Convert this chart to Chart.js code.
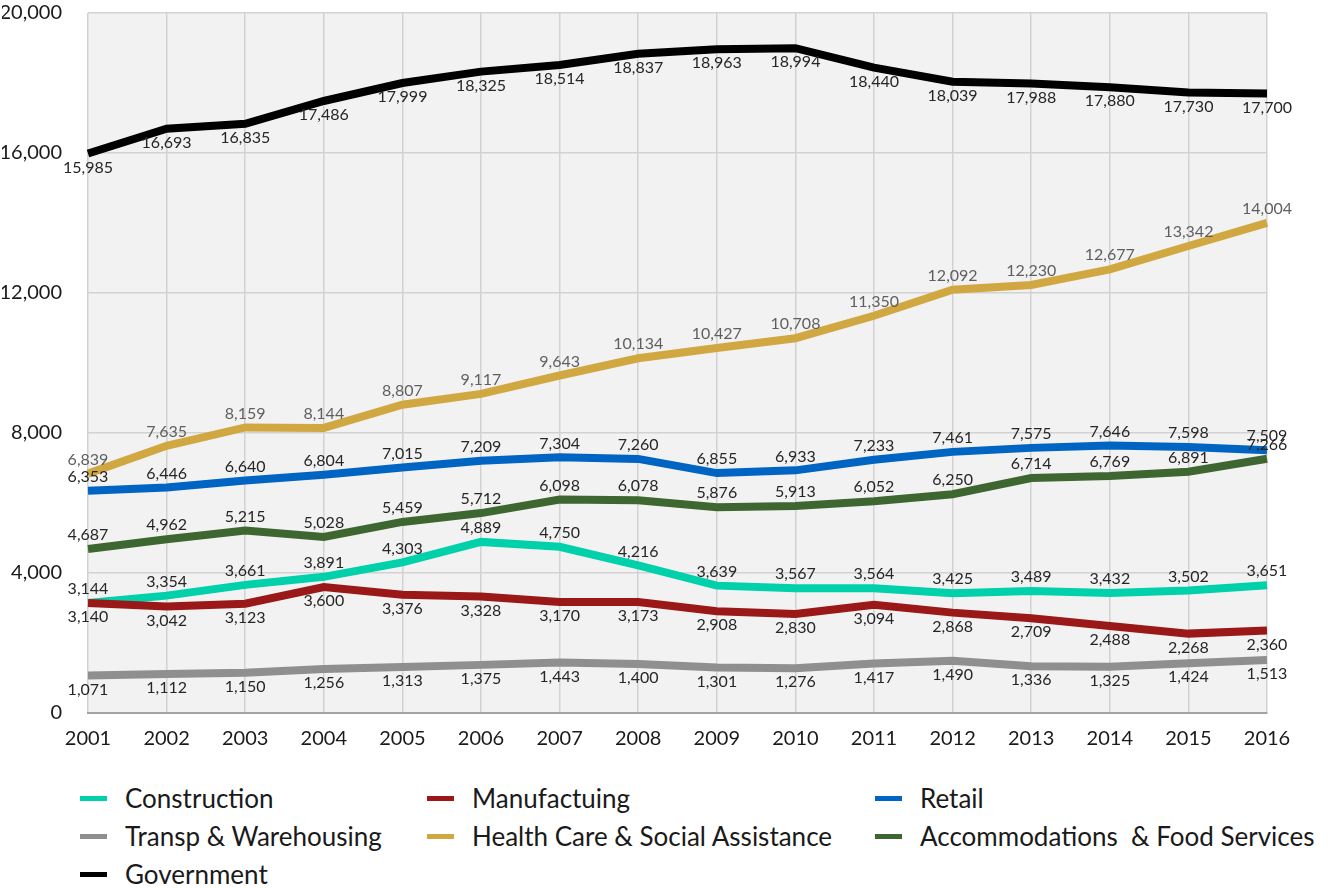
<!DOCTYPE html>
<html>
<head>
<meta charset="utf-8">
<script src="https://cdn.jsdelivr.net/npm/chart.js@4.4.1/dist/chart.umd.min.js"></script>
<style>
  html, body { margin: 0; padding: 0; background: #ffffff; }
  body { width: 1336px; height: 888px; position: relative; overflow: hidden; font-family: Lato, "Open Sans", sans-serif; }
  #wrap { position: absolute; left: 0; top: 0; width: 1336px; height: 765px; }
  #legend { position: absolute; left: 80px; top: 779px; display: grid; grid-template-columns: 347px 448px auto; grid-auto-rows: 38px; }
  .item { display: flex; align-items: center; font-size: 26px; color: #1a1a1a; white-space: pre; }
  .mark { width: 27px; height: 5px; margin-right: 18px; }
</style>
</head>
<body>
<div id="wrap"><canvas id="lineChart"></canvas></div>
<div id="legend"></div>
<script>
const years = ['2001', '2002', '2003', '2004', '2005', '2006', '2007', '2008',
               '2009', '2010', '2011', '2012', '2013', '2014', '2015', '2016'];

const construction = [3144, 3354, 3661, 3891, 4303, 4889, 4750, 4216, 3639, 3567, 3564, 3425, 3489, 3432, 3502, 3651];
const manufacturing = [3140, 3042, 3123, 3600, 3376, 3328, 3170, 3173, 2908, 2830, 3094, 2868, 2709, 2488, 2268, 2360];
const retail = [6353, 6446, 6640, 6804, 7015, 7209, 7304, 7260, 6855, 6933, 7233, 7461, 7575, 7646, 7598, 7509];
const transp = [1071, 1112, 1150, 1256, 1313, 1375, 1443, 1400, 1301, 1276, 1417, 1490, 1336, 1325, 1424, 1513];
const health = [6839, 7635, 8159, 8144, 8807, 9117, 9643, 10134, 10427, 10708, 11350, 12092, 12230, 12677, 13342, 14004];
const accommodations = [4687, 4962, 5215, 5028, 5459, 5712, 6098, 6078, 5876, 5913, 6052, 6250, 6714, 6769, 6891, 7266];
const government = [15985, 16693, 16835, 17486, 17999, 18325, 18514, 18837, 18963, 18994, 18440, 18039, 17988, 17880, 17730, 17700];

const yTicks = [0, 4000, 8000, 12000, 16000, 20000];

function series(label, data, color, labelPos, labelColor) {
    return {
        label: label,
        data: data,
        borderColor: color,
        backgroundColor: color,
        borderWidth: 8,
        pointRadius: 0,
        tension: 0,
        fill: false,
        labelPos: labelPos,
        labelColor: labelColor || '#262626'
    };
}

const datasets = [
    series('Construction', construction, '#00d1aa', 'above'),
    series('Manufactuing', manufacturing, '#9b1818', 'below'),
    series('Retail', retail, '#0064c3', 'above'),
    series('Transp & Warehousing', transp, '#8f8f8f', 'below'),
    series('Health Care & Social Assistance', health, '#d1a741', 'above', '#5f5f5f'),
    series('Accommodations  & Food Services', accommodations, '#3e6630', 'above'),
    series('Government', government, '#000000', 'below')
];
// later series are painted on top, like the original
datasets.forEach((d, i) => { d.order = datasets.length - i; });

// grey plot area
const plotBackground = {
    id: 'plotBackground',
    beforeDraw(chart) {
        const { ctx, chartArea } = chart;
        ctx.save();
        ctx.fillStyle = '#f2f2f2';
        ctx.fillRect(chartArea.left, chartArea.top, chartArea.right - chartArea.left, chartArea.bottom - chartArea.top);
        ctx.restore();
    }
};

// value labels above / below each point
const valueLabels = {
    id: 'valueLabels',
    afterDatasetsDraw(chart) {
        const ctx = chart.ctx;
        ctx.save();
        ctx.font = '16px Lato, "Open Sans", sans-serif';
        ctx.textAlign = 'center';
        ctx.textBaseline = 'middle';
        chart.data.datasets.forEach((ds, i) => {
            const meta = chart.getDatasetMeta(i);
            ctx.fillStyle = ds.labelColor;
            meta.data.forEach((pt, j) => {
                const dy = ds.labelPos === 'above' ? -14 : 14;
                ctx.fillText(ds.data[j].toLocaleString('en-US'), pt.x, pt.y + dy);
            });
        });
        ctx.restore();
    }
};

const ctx = document.getElementById('lineChart').getContext('2d');
const lineChart = new Chart(ctx, {
    type: 'line',
    data: { labels: years, datasets: datasets },
    options: {
        responsive: true,
        maintainAspectRatio: false,
        animation: false,
        layout: { padding: { top: 13, right: 69, left: 2, bottom: 0 } },
        scales: {
            x: {
                offset: false,
                grid: { color: '#d2d2d2', lineWidth: 1.5, drawTicks: false },
                border: { display: true, color: '#a3a3a3', width: 2 },
                ticks: { color: '#1a1a1a', font: { size: 20, family: 'Lato' }, padding: 14, maxRotation: 0 }
            },
            y: {
                min: 0,
                max: 20000,
                afterBuildTicks(axis) { axis.ticks = yTicks.map(v => ({ value: v })); },
                afterFit(axis) {
                    axis.width = 86;
                    axis.paddingTop = 0;
                    axis.paddingBottom = 0;
                },
                grid: { color: '#d2d2d2', lineWidth: 1.5, drawTicks: false },
                border: { display: false },
                ticks: {
                    color: '#1a1a1a',
                    font: { size: 20, family: 'Lato' },
                    padding: 26,
                    callback: v => v.toLocaleString('en-US')
                }
            }
        },
        plugins: {
            legend: { display: false },
            tooltip: { enabled: false }
        }
    },
    plugins: [plotBackground, valueLabels]
});

// legend in three columns
const legend = document.getElementById('legend');
datasets.forEach(ds => {
    const item = document.createElement('div');
    item.className = 'item';
    const mark = document.createElement('span');
    mark.className = 'mark';
    mark.style.background = ds.borderColor;
    item.appendChild(mark);
    item.appendChild(document.createTextNode(ds.label));
    legend.appendChild(item);
});
</script>
</body>
</html>
